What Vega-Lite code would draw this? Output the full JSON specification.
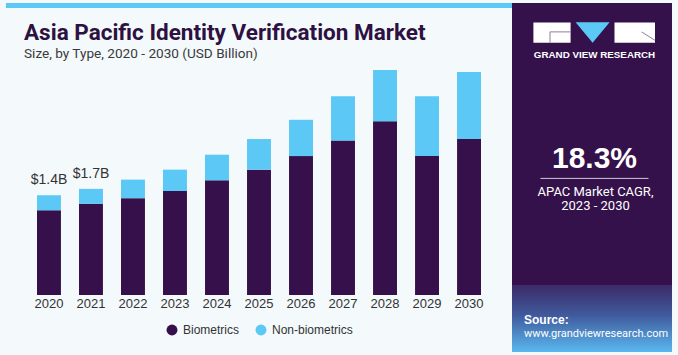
{
  "$schema": "https://vega.github.io/schema/vega-lite/v6.json",
  "background": "#f4f9fc",
  "padding": {"left": 6, "top": 3, "right": 6, "bottom": 3},
  "spacing": 0,
  "resolve": {"legend": {"color": "independent"}},
  "config": {
    "view": {"stroke": null},
    "font": "Liberation Sans",
    "legend": {"layout": {"bottom": {"anchor": "middle"}}}
  },
  "hconcat": [
    {
      "width": 506,
      "height": 292,
      "title": {
        "text": "Asia Pacific Identity Verification Market",
        "subtitle": "Size, by Type, 2020 - 2030 (USD Billion)",
        "anchor": "start",
        "frame": "group",
        "offset": -58,
        "dx": 18,
        "font": "Roboto",
        "fontSize": 22.5,
        "fontWeight": "bold",
        "color": "#2d1140",
        "subtitleFont": "Roboto",
        "subtitleFontSize": 13.6,
        "subtitleColor": "#3a3a3a",
        "subtitlePadding": 3
      },
      "layer": [
        {
          "data": {
            "values": [
              {"year": "2020", "type": "Biometrics", "value": 1.19},
              {"year": "2020", "type": "Non-biometrics", "value": 0.21},
              {"year": "2021", "type": "Biometrics", "value": 1.28},
              {"year": "2021", "type": "Non-biometrics", "value": 0.21},
              {"year": "2022", "type": "Biometrics", "value": 1.36},
              {"year": "2022", "type": "Non-biometrics", "value": 0.26},
              {"year": "2023", "type": "Biometrics", "value": 1.46},
              {"year": "2023", "type": "Non-biometrics", "value": 0.30},
              {"year": "2024", "type": "Biometrics", "value": 1.61},
              {"year": "2024", "type": "Non-biometrics", "value": 0.36},
              {"year": "2025", "type": "Biometrics", "value": 1.76},
              {"year": "2025", "type": "Non-biometrics", "value": 0.43},
              {"year": "2026", "type": "Biometrics", "value": 1.95},
              {"year": "2026", "type": "Non-biometrics", "value": 0.51},
              {"year": "2027", "type": "Biometrics", "value": 2.17},
              {"year": "2027", "type": "Non-biometrics", "value": 0.62},
              {"year": "2028", "type": "Biometrics", "value": 2.44},
              {"year": "2028", "type": "Non-biometrics", "value": 0.72},
              {"year": "2029", "type": "Biometrics", "value": 1.95},
              {"year": "2029", "type": "Non-biometrics", "value": 0.84},
              {"year": "2030", "type": "Biometrics", "value": 2.19},
              {"year": "2030", "type": "Non-biometrics", "value": 0.94}
            ]
          },
          "mark": {"type": "bar"},
          "encoding": {
            "x": {
              "field": "year",
              "type": "ordinal",
              "scale": {"paddingInner": 0.43, "paddingOuter": 0.738},
              "axis": {
                "title": null,
                "labelAngle": 0,
                "ticks": false,
                "domain": false,
                "labelFont": "Liberation Sans",
                "labelFontSize": 13,
                "labelColor": "#333333",
                "labelPadding": 2
              }
            },
            "y": {
              "field": "value",
              "type": "quantitative",
              "stack": "zero",
              "scale": {"domain": [0, 4.1], "nice": false},
              "axis": null
            },
            "color": {
              "field": "type",
              "type": "nominal",
              "scale": {"domain": ["Biometrics", "Non-biometrics"], "range": ["#36104a", "#5bc8f5"]},
              "legend": {
                "orient": "bottom",
                "direction": "horizontal",
                "title": null,
                "symbolType": "circle",
                "symbolSize": 120,
                "symbolStrokeWidth": 0,
                "labelFont": "Liberation Sans",
                "labelFontSize": 12,
                "labelColor": "#333333",
                "columnPadding": 15,
                "labelOffset": 5,
                "offset": 14
              }
            },
            "order": {"field": "type", "sort": "ascending"}
          }
        },
        {
          "data": {
            "values": [
              {"year": "2020", "total": 1.40, "label": "$1.4B"},
              {"year": "2021", "total": 1.49, "label": "$1.7B"}
            ]
          },
          "mark": {"type": "text", "baseline": "bottom", "dy": -8, "fontSize": 14, "color": "#333333", "font": "Liberation Sans"},
          "encoding": {
            "x": {"field": "year", "type": "ordinal"},
            "y": {"field": "total", "type": "quantitative"},
            "text": {"field": "label"}
          }
        },
        {
          "data": {"values": [{}]},
          "mark": {"type": "rect", "color": "#5bc8f5"},
          "encoding": {
            "y": {"datum": 4.1, "type": "quantitative"},
            "y2": {"datum": 4.03}
          }
        }
      ]
    },
    {
      "width": 160,
      "height": 349,
      "data": {"values": [{}]},
      "view": {"fill": "#34114a", "stroke": null},
      "layer": [
        {
          "mark": {
            "type": "rect",
            "color": {
              "gradient": "linear",
              "x1": 0, "y1": 0, "x2": 0, "y2": 1,
              "stops": [
                {"offset": 0, "color": "#3b2a68"},
                {"offset": 0.45, "color": "#405a9c"},
                {"offset": 1, "color": "#5ab8f0"}
              ]
            }
          },
          "encoding": {
            "x": {"datum": 0, "type": "quantitative", "scale": {"domain": [0, 160], "nice": false, "zero": false}, "axis": null},
            "x2": {"datum": 160},
            "y": {"datum": 282, "type": "quantitative", "scale": {"domain": [0, 349], "nice": false, "zero": false, "reverse": true}, "axis": null},
            "y2": {"datum": 349}
          }
        },
        {
          "mark": {"type": "rect", "color": "#ffffff"},
          "encoding": {
            "x": {"datum": 21.4, "type": "quantitative", "axis": null},
            "x2": {"datum": 58.6},
            "y": {"datum": 19.4, "type": "quantitative", "axis": null},
            "y2": {"datum": 39.7}
          }
        },
        {
          "mark": {"type": "rect", "color": "#ffffff"},
          "encoding": {
            "x": {"datum": 102.5, "type": "quantitative", "axis": null},
            "x2": {"datum": 143},
            "y": {"datum": 19.4, "type": "quantitative", "axis": null},
            "y2": {"datum": 39.7}
          }
        },
        {
          "mark": {"type": "rule", "color": "#8c7f99", "strokeWidth": 1},
          "encoding": {
            "x": {"datum": 38, "type": "quantitative", "axis": null},
            "x2": {"datum": 58.6},
            "y": {"datum": 28.9, "type": "quantitative", "axis": null},
            "y2": {"datum": 28.9}
          }
        },
        {
          "mark": {"type": "rule", "color": "#8c7f99", "strokeWidth": 1},
          "encoding": {
            "x": {"datum": 38, "type": "quantitative", "axis": null},
            "x2": {"datum": 38},
            "y": {"datum": 28.9, "type": "quantitative", "axis": null},
            "y2": {"datum": 39.7}
          }
        },
        {
          "mark": {"type": "rule", "color": "#8c7f99", "strokeWidth": 1},
          "encoding": {
            "x": {"datum": 129.6, "type": "quantitative", "axis": null},
            "x2": {"datum": 143},
            "y": {"datum": 28.9, "type": "quantitative", "axis": null},
            "y2": {"datum": 37.3}
          }
        },
        {
          "mark": {"type": "point", "shape": "M-1,-0.6L1,-0.6L0,0.6Z", "size": 1156, "filled": true, "color": "#5bc8f5", "opacity": 1, "strokeWidth": 0},
          "encoding": {
            "x": {"datum": 80.6, "type": "quantitative", "axis": null},
            "y": {"datum": 29.5, "type": "quantitative", "axis": null}
          }
        },
        {
          "mark": {"type": "text", "text": "GRAND VIEW RESEARCH", "font": "Liberation Sans", "fontSize": 9.8, "fontWeight": "bold", "color": "#ffffff", "align": "center", "baseline": "middle"},
          "encoding": {
            "x": {"datum": 82.5, "type": "quantitative", "axis": null},
            "y": {"datum": 51.9, "type": "quantitative", "axis": null}
          }
        },
        {
          "mark": {"type": "text", "text": "18.3%", "font": "Liberation Sans", "fontSize": 30, "fontWeight": "bold", "color": "#ffffff", "align": "center", "baseline": "middle"},
          "encoding": {
            "x": {"datum": 82.5, "type": "quantitative", "axis": null},
            "y": {"datum": 156, "type": "quantitative", "axis": null}
          }
        },
        {
          "mark": {"type": "rule", "color": "#cfc8d8", "strokeWidth": 1},
          "encoding": {
            "x": {"datum": 28.4, "type": "quantitative", "axis": null},
            "x2": {"datum": 136.5},
            "y": {"datum": 175.4, "type": "quantitative", "axis": null},
            "y2": {"datum": 175.4}
          }
        },
        {
          "mark": {"type": "text", "text": "APAC Market CAGR,", "font": "Roboto", "fontSize": 13, "color": "#ffffff", "align": "center", "baseline": "middle"},
          "encoding": {
            "x": {"datum": 83.5, "type": "quantitative", "axis": null},
            "y": {"datum": 189, "type": "quantitative", "axis": null}
          }
        },
        {
          "mark": {"type": "text", "text": "2023 - 2030", "font": "Roboto", "fontSize": 13, "color": "#ffffff", "align": "center", "baseline": "middle"},
          "encoding": {
            "x": {"datum": 83.5, "type": "quantitative", "axis": null},
            "y": {"datum": 203, "type": "quantitative", "axis": null}
          }
        },
        {
          "mark": {"type": "text", "text": "Source:", "font": "Liberation Sans", "fontSize": 12, "fontWeight": "bold", "color": "#ffffff", "align": "left", "baseline": "middle"},
          "encoding": {
            "x": {"datum": 12, "type": "quantitative", "axis": null},
            "y": {"datum": 317, "type": "quantitative", "axis": null}
          }
        },
        {
          "mark": {"type": "text", "text": "www.grandviewresearch.com", "font": "Roboto", "fontSize": 11, "color": "#ffffff", "align": "left", "baseline": "middle"},
          "encoding": {
            "x": {"datum": 12, "type": "quantitative", "axis": null},
            "y": {"datum": 330.5, "type": "quantitative", "axis": null}
          }
        }
      ]
    }
  ]
}
